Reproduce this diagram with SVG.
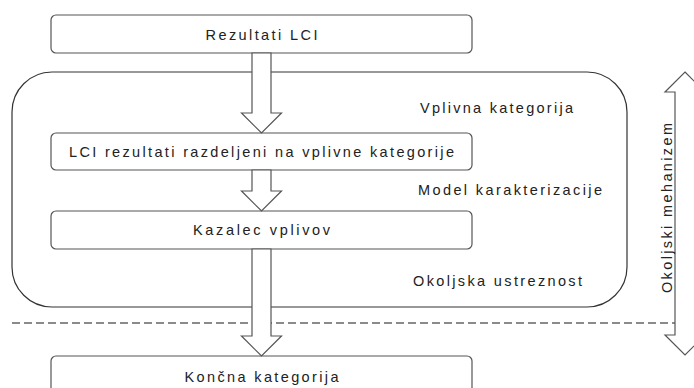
<svg xmlns="http://www.w3.org/2000/svg" width="694" height="388" viewBox="0 0 694 388">
  <style>
    .box { fill: #ffffff; stroke: #555555; stroke-width: 1.2; }
    .frame { fill: none; stroke: #333333; stroke-width: 1.2; }
    .blk { fill: #ffffff; stroke: #555555; stroke-width: 1.2; stroke-linejoin: miter; }
    .dash { fill: none; stroke: #666666; stroke-width: 1.6; stroke-dasharray: 8 4; }
    .t { font-family: "Liberation Sans", Arial, sans-serif; font-size: 14.5px; fill: #222222; }
    .c { text-anchor: middle; }
  </style>

  <rect width="694" height="388" fill="#ffffff"/>

  <!-- environmental domain frame -->
  <rect id="frame" class="frame" x="12" y="72" width="615" height="235" rx="40" ry="40"/>

  <!-- boundary between midpoint and endpoint level -->
  <line class="dash" x1="12" y1="323" x2="675" y2="323"/>

  <g id="n1">
    <rect class="box" x="51" y="15" width="421" height="38" rx="5"/>
    <text class="t c" x="261.5" y="39.5" textLength="112" lengthAdjust="spacing">Rezultati LCI</text>
  </g>
  <g id="n2">
    <rect class="box" x="51" y="133" width="421" height="37" rx="5"/>
    <text class="t c" x="261.5" y="157" textLength="385" lengthAdjust="spacing">LCI rezultati razdeljeni na vplivne kategorije</text>
  </g>
  <g id="n3">
    <rect class="box" x="51" y="211" width="421" height="38" rx="5"/>
    <text class="t c" x="261.5" y="235" textLength="137" lengthAdjust="spacing">Kazalec vplivov</text>
  </g>
  <g id="n4">
    <rect class="box" x="51" y="356" width="421" height="40" rx="5"/>
    <text class="t c" x="261.5" y="382" textLength="154" lengthAdjust="spacing">Končna kategorija</text>
  </g>

  <!-- step labels -->
  <g id="labels">
    <text class="t" x="420" y="113" textLength="153" lengthAdjust="spacing">Vplivna kategorija</text>
    <text class="t" x="418" y="195" textLength="184" lengthAdjust="spacing">Model karakterizacije</text>
    <text class="t" x="413" y="286" textLength="169" lengthAdjust="spacing">Okoljska ustreznost</text>
  </g>

  <!-- block arrows between the steps -->
  <g id="connectors">
    <path class="blk" d="M252,53 L271,53 L271,113 L281.5,113 L261.5,133 L241.5,113 L252,113 Z"/>
    <path class="blk" d="M252,170 L271,170 L271,191 L281.5,191 L261.5,211 L241.5,191 L252,191 Z"/>
    <path class="blk" d="M252,249 L271,249 L271,336 L281.5,336 L261.5,356 L241.5,336 L252,336 Z"/>
  </g>

  <!-- environmental mechanism axis -->
  <g id="axis">
    <path class="blk" d="M685,72 L705,92 L695,92 L695,335 L705,335 L685,355 L665,335 L675,335 L675,92 L665,92 Z"/>
    <text class="t c" x="672" y="208" transform="rotate(-90 672 208)" textLength="170" lengthAdjust="spacing">Okoljski mehanizem</text>
  </g>
</svg>
